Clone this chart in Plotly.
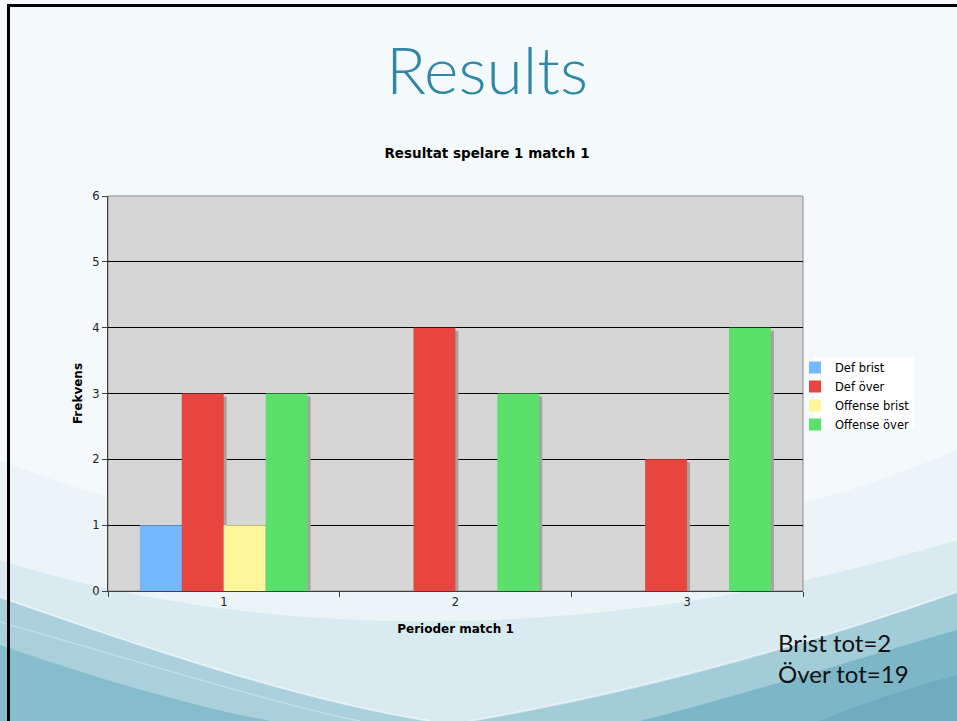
import plotly.graph_objects as go

# ---------------- data ----------------
categories = ["1", "2", "3"]
series_names = ["Def brist", "Def över", "Offense brist", "Offense över"]
def_brist = [1, 0, 0]
def_over = [3, 4, 2]
off_brist = [1, 0, 0]
off_over = [3, 3, 4]
y_ticks = [0, 1, 2, 3, 4, 5, 6]

series_values = [def_brist, def_over, off_brist, off_over]
colors = ["#74b9ff", "#e8453f", "#fff59a", "#5be06b"]

# ---------------- geometry helpers ----------------
W, H = 957, 721
L, R, T, B = 108, 154, 196, 130
PW, PH = W - L - R, H - T - B


def px(x):
    return (x - L) / PW


def py(y):
    return (H - B - y) / PH


def path(cmds):
    out = []
    for c in cmds:
        if c[0] in ("M", "L"):
            out.append(f"{c[0]} {px(c[1]):.4f},{py(c[2]):.4f}")
        elif c[0] == "C":
            out.append(
                f"C {px(c[1]):.4f},{py(c[2]):.4f} {px(c[3]):.4f},{py(c[4]):.4f} {px(c[5]):.4f},{py(c[6]):.4f}"
            )
        elif c[0] == "Z":
            out.append("Z")
    return " ".join(out)


def fill_shape(cmds, color):
    return dict(type="path", xref="paper", yref="paper", layer="below",
                path=path(cmds), fillcolor=color, line=dict(width=0))


def line_shape(cmds, color, width):
    return dict(type="path", xref="paper", yref="paper", layer="below",
                path=path(cmds), line=dict(color=color, width=width))


fig = go.Figure()

bar_w = 0.181
start = -0.3625
sh_dx = 0.013
sh_dy = 0.046

# shadows
for i, vals in enumerate(series_values):
    fig.add_trace(go.Bar(
        x=categories,
        y=[v - sh_dy if v > 0 else None for v in vals],
        width=bar_w, offset=start + i * bar_w + sh_dx,
        marker=dict(color="#a3a3a3", line=dict(width=0)),
        showlegend=False, hoverinfo="skip",
    ))

for i, (name, vals) in enumerate(zip(series_names, series_values)):
    fig.add_trace(go.Bar(
        x=categories, y=vals, name=name,
        width=bar_w, offset=start + i * bar_w,
        marker=dict(color=colors[i], line=dict(width=0)),
    ))

shapes = [
    # soft tints
    fill_shape([("M", 0, 460), ("C", 300, 580, 650, 580, 957, 450),
                ("L", 957, 721), ("L", 0, 721), ("Z",)], "#ebf4f7"),
    fill_shape([("M", 0, 560), ("C", 250, 640, 600, 650, 957, 540),
                ("L", 957, 721), ("L", 0, 721), ("Z",)], "#d9eaf0"),
    # left wave
    fill_shape([("M", 0, 597), ("C", 150, 650, 300, 700, 430, 721),
                ("L", 0, 721), ("Z",)], "#a9d0dc"),
    fill_shape([("M", 0, 645), ("C", 100, 680, 200, 708, 270, 721),
                ("L", 0, 721), ("Z",)], "#86bccc"),
    # right wave
    fill_shape([("M", 470, 721), ("C", 650, 690, 820, 640, 957, 592),
                ("L", 957, 721), ("Z",)], "#a2ccd8"),
    fill_shape([("M", 640, 721), ("C", 760, 690, 870, 655, 957, 630),
                ("L", 957, 721), ("Z",)], "#7db6c7"),
    fill_shape([("M", 820, 721), ("C", 870, 700, 920, 685, 957, 675),
                ("L", 957, 721), ("Z",)], "#6eabbd"),
    # highlight streaks
    line_shape([("M", 0, 597), ("C", 150, 650, 300, 700, 430, 721)],
               "rgba(255,255,255,0.55)", 2),
    line_shape([("M", 470, 721), ("C", 650, 690, 820, 640, 957, 592)],
               "rgba(255,255,255,0.5)", 2),
    line_shape([("M", 0, 622), ("C", 150, 665, 280, 705, 360, 721)],
               "rgba(255,255,255,0.3)", 1.5),
    # plot background
    dict(type="rect", xref="x domain", yref="y domain", layer="below",
         x0=0, x1=1, y0=0, y1=1, fillcolor="#d6d6d6",
         line=dict(color="#8c8c8c", width=1)),
    # legend box
    dict(type="rect", xref="paper", yref="paper", layer="below",
         x0=px(814), x1=px(914), y0=py(357), y1=py(429),
         fillcolor="#ffffff", line=dict(width=0)),
    # slide frame
    dict(type="line", xref="paper", yref="paper",
         x0=px(7), x1=px(960), y0=py(5.5), y1=py(5.5),
         line=dict(color="#000000", width=3)),
    dict(type="line", xref="paper", yref="paper",
         x0=px(8.5), x1=px(8.5), y0=py(4), y1=py(725),
         line=dict(color="#000000", width=3)),
]

annotations = [
    dict(text="Results", xref="paper", yref="paper", x=px(487), y=py(68),
         xanchor="center", yanchor="middle", showarrow=False,
         font=dict(family="Lato", size=66, color="#2f86a6", weight=300)),
    dict(text="Brist tot=2<br>Över tot=19", xref="paper", yref="paper",
         x=px(776), y=py(626), xanchor="left", yanchor="top", align="left",
         showarrow=False,
         font=dict(family="Lato", size=24, color="#111111")),
]

fig.update_layout(
    width=W, height=H,
    margin=dict(l=L, r=R, t=T, b=B, autoexpand=False),
    paper_bgcolor="#f4fafc",
    plot_bgcolor="rgba(0,0,0,0)",
    barmode="overlay",
    title=dict(text="<b>Resultat spelare 1 match 1</b>", xref="container", x=487 / W,
               xanchor="center", yref="container", y=1 - 153 / H, yanchor="middle",
               font=dict(family="DejaVu Sans", size=13.5, color="#000000")),
    font=dict(family="DejaVu Sans", size=12, color="#222222"),
    showlegend=True,
    legend=dict(x=px(795), y=py(353), xanchor="left", yanchor="top",
                bgcolor="rgba(0,0,0,0)", borderwidth=0,
                font=dict(family="DejaVu Sans", size=11.5, color="#000000"),
                traceorder="normal", itemwidth=30),
    shapes=shapes,
    annotations=annotations,
)

fig.update_xaxes(
    type="category", categoryorder="array", categoryarray=categories,
    range=[-0.5, 2.5], showgrid=False, zeroline=False,
    showline=True, linecolor="#404040", linewidth=1,
    ticks="outside", tickson="boundaries", ticklen=5, tickcolor="#404040",
    tickfont=dict(family="DejaVu Sans", size=11.5, color="#222222"),
    title=dict(text="<b>Perioder match 1</b>", standoff=16,
               font=dict(family="DejaVu Sans", size=12, color="#000000")),
)
fig.update_yaxes(
    range=[0, 6], tickvals=y_ticks, showgrid=True, gridcolor="#000000", gridwidth=1,
    zeroline=False, showline=True, linecolor="#404040", linewidth=1,
    ticks="outside", ticklen=5, tickcolor="#404040",
    tickfont=dict(family="DejaVu Sans", size=11.5, color="#222222"),
    title=dict(text="<b>Frekvens</b>", standoff=7,
               font=dict(family="DejaVu Sans", size=12, color="#000000")),
)

fig.write_html("out.html", config={"displayModeBar": False},
               post_script="document.body.style.margin='0px';")
